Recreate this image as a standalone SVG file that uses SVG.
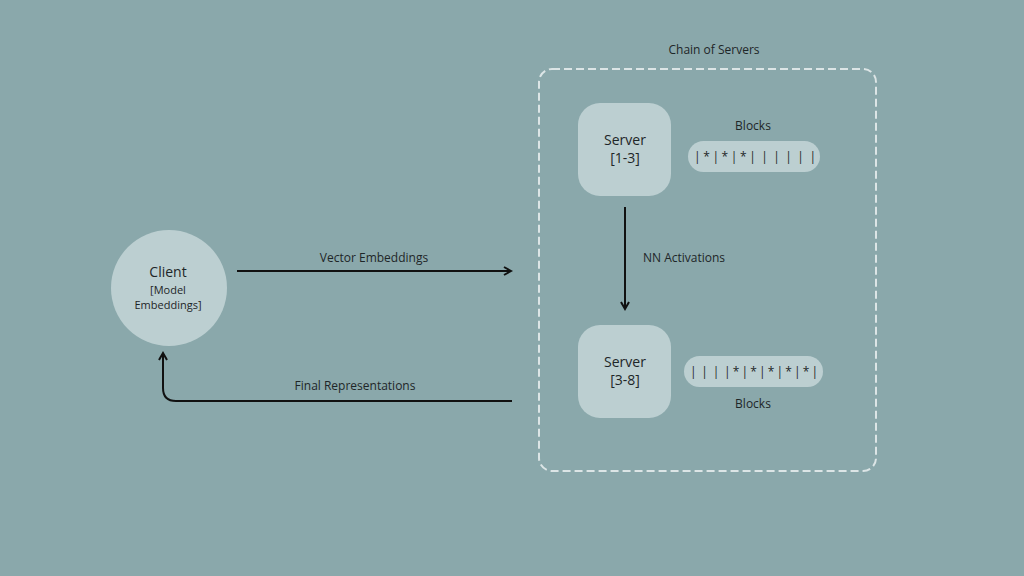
<svg xmlns="http://www.w3.org/2000/svg" width="1024" height="576" viewBox="0 0 1024 576">
<defs>
<style>
.t{font-family:"Open Sans","Liberation Sans",sans-serif;fill:#1e2628;text-anchor:middle}
.b{font-family:"Open Sans","Liberation Sans",sans-serif;fill:#1e2628}
.node{fill:#bccfd1}
.conn{fill:none;stroke:#111;stroke-width:2}
</style>
<marker id="ah" viewBox="0 0 10 10" refX="8" refY="5" markerWidth="5" markerHeight="5" orient="auto-start-reverse">
<path d="M1,1 L8,5 L1,9" fill="none" stroke="#111" stroke-width="2"/>
</marker>
</defs>
<rect width="1024" height="576" fill="#8aa8ab"/>
<g id="chain">
<rect x="539" y="69" width="337" height="402" rx="13" fill="none" stroke="#dce5e6" stroke-width="2" stroke-dasharray="8,4"/>
<text class="t" x="714" y="54" font-size="12">Chain of Servers</text>
</g>
<g id="client">
<circle class="node" cx="169" cy="288" r="58"/>
<text class="t" x="168" y="277" font-size="14">Client</text>
<text class="t" x="168" y="294" font-size="11">[Model</text>
<text class="t" x="168" y="309" font-size="11">Embeddings]</text>
</g>
<g id="server1">
<rect class="node" x="578" y="103" width="93" height="93" rx="22"/>
<text class="t" x="625" y="145" font-size="14">Server</text>
<text class="t" x="625" y="163" font-size="14">[1-3]</text>
</g>
<g id="blocks1">
<rect class="node" x="688" y="141" width="132" height="31" rx="15.5"/>
<text class="b" x="694" y="161" font-size="12" textLength="122" lengthAdjust="spacing" xml:space="preserve">| * | * | * |  |  |  |  |  |</text>
<text class="t" x="753" y="130" font-size="12">Blocks</text>
</g>
<g id="server2">
<rect class="node" x="578" y="325" width="93" height="93" rx="22"/>
<text class="t" x="625" y="367" font-size="14">Server</text>
<text class="t" x="625" y="385" font-size="14">[3-8]</text>
</g>
<g id="blocks2">
<rect class="node" x="684" y="356" width="139" height="31" rx="15.5"/>
<text class="b" x="690" y="376" font-size="12" textLength="128" lengthAdjust="spacing" xml:space="preserve">|  |  |  | * | * | * | * | * |</text>
<text class="t" x="753" y="408" font-size="12">Blocks</text>
</g>
<g id="connectors">
<line class="conn" x1="237" y1="271" x2="511" y2="271" marker-end="url(#ah)"/>
<text class="t" x="374" y="262" font-size="12">Vector Embeddings</text>
<line class="conn" x1="625" y1="207" x2="625" y2="309" marker-end="url(#ah)"/>
<text class="t" x="684" y="262" font-size="12">NN Activations</text>
<path class="conn" d="M512,401 H176 Q163,401 163,388 V353" marker-end="url(#ah)"/>
<text class="t" x="355" y="390" font-size="12">Final Representations</text>
</g>
</svg>
